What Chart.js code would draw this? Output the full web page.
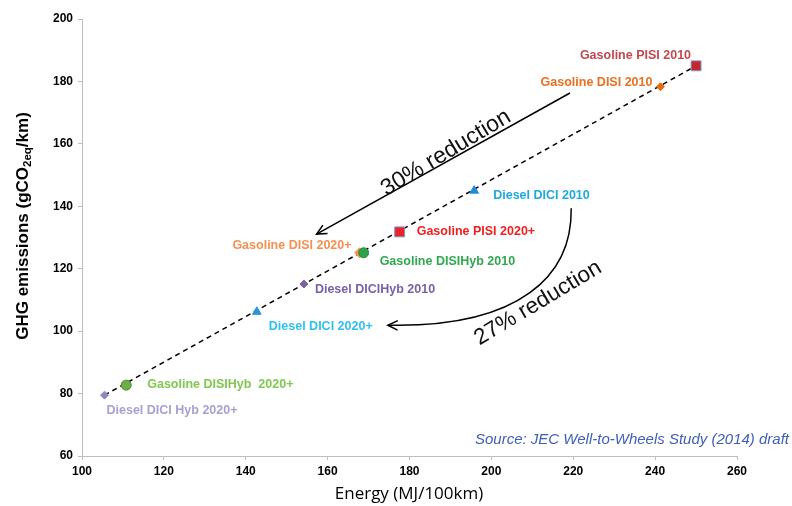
<!DOCTYPE html>
<html lang="en">
<head>
<meta charset="UTF-8">
<title>GHG emissions vs energy</title>
<script src="https://cdn.jsdelivr.net/npm/chart.js"></script>
<style>
  html, body { margin:0; padding:0; background:#fff; }
  #wrap { width:792px; height:506px; }
</style>
</head>
<body>
<div id="wrap"><canvas id="chart" width="792" height="506"></canvas></div>
<script>
// vehicle configurations (JEC WtW 2014)
const vehicles = [
  'Gasoline PISI 2010', 'Gasoline DISI 2010', 'Diesel DICI 2010', 'Gasoline PISI 2020+',
  'Gasoline DISI 2020+', 'Gasoline DISIHyb 2010', 'Diesel DICIHyb 2010', 'Diesel DICI 2020+',
  'Gasoline DISIHyb  2020+', 'Diesel DICI Hyb 2020+'
];
const energy    = [250, 241.3, 195.8, 177.6, 167.8, 168.8, 154.2, 142.7, 110.8, 105.5];   // MJ/100km
const emissions = [185, 178.3, 145.0, 131.8, 125.1, 125.1, 115.1, 106.2, 82.7, 79.5];     // gCO2eq/km

const xTicks = [100, 120, 140, 160, 180, 200, 220, 240, 260];
const yTicks = [60, 80, 100, 120, 140, 160, 180, 200];

// styling
const pointFill   = ['#C0282E', '#E46C0A', '#1F8DD6', '#E8242A', '#F79646', '#2EA24A', '#7B62A8', '#2A95DA', '#6CB044', '#8E89C6'];
const pointBorder = ['#8A93C8', '#E46C0A', '#1F8DD6', '#8A93C8', '#F79646', '#2E8A40', '#7B62A8', '#2A95DA', '#4E8A30', '#8E89C6'];
const pointShape  = ['rect', 'rectRot', 'triangle', 'rect', 'rectRot', 'circle', 'rectRot', 'triangle', 'circle', 'rectRot'];
const pointSize   = [7, 4, 5, 7, 5, 5, 4, 5, 5, 4];
const labelColor  = ['#C04850', '#E87020', '#20A8E0', '#F02020', '#F59050', '#30A850', '#7A60A8', '#30C0F0', '#80C850', '#A8A0D0'];
// [dx, dy, align] relative to the marker
const labelPos = [
  [-5, -10, 'right'], [-8, -4, 'right'], [19, 5, 'left'], [17, 0, 'left'], [-8, -7, 'right'],
  [16, 9, 'left'], [11, 6, 'left'], [12, 15, 'left'], [21, -1, 'left'], [2, 15, 'left']
];

const FONT = '"Liberation Sans", Arial, sans-serif';

const points = energy.map((e, i) => ({ x: e, y: emissions[i] }));
const lo = energy.indexOf(Math.min(...energy));
const hi = energy.indexOf(Math.max(...energy));

// annotations, in data coordinates
const arrow30 = { from: [219.2, 176.3], to: [157.3, 131.1] };
const arrow27 = { from: [219.5, 139.4], c1: [219.8, 117.9], c2: [207, 101], to: [174.7, 101.9] };
const texts = [
  { text: '30% reduction', at: [188.9, 157.1], angle: -31, size: 23 },
  { text: '27% reduction', at: [211.4, 109.0], angle: -31, size: 22.5 }
];

function head(ctx, x, y, ang) {
  const L = 11, a = 0.45;
  ctx.beginPath();
  ctx.moveTo(x - L * Math.cos(ang - a), y - L * Math.sin(ang - a));
  ctx.lineTo(x, y);
  ctx.lineTo(x - L * Math.cos(ang + a), y - L * Math.sin(ang + a));
  ctx.stroke();
}

const decor = {
  id: 'decor',
  afterDatasetsDraw(chart) {
    const ctx = chart.ctx, sx = chart.scales.x, sy = chart.scales.y;
    const P = p => [sx.getPixelForValue(p[0]), sy.getPixelForValue(p[1])];
    const meta = chart.getDatasetMeta(1);
    ctx.save();
    // point labels
    ctx.font = 'bold 12.5px ' + FONT;
    ctx.textBaseline = 'middle';
    meta.data.forEach((el, i) => {
      const [dx, dy, al] = labelPos[i];
      ctx.fillStyle = labelColor[i];
      ctx.textAlign = al;
      ctx.fillText(vehicles[i], el.x + dx, el.y + dy);
    });

    // arrows
    ctx.strokeStyle = '#000';
    ctx.lineWidth = 1.5;
    let a = P(arrow30.from), b = P(arrow30.to);
    ctx.beginPath(); ctx.moveTo(a[0], a[1]); ctx.lineTo(b[0], b[1]); ctx.stroke();
    head(ctx, b[0], b[1], Math.atan2(b[1] - a[1], b[0] - a[0]));

    a = P(arrow27.from); const c1 = P(arrow27.c1), c2 = P(arrow27.c2); b = P(arrow27.to);
    ctx.beginPath(); ctx.moveTo(a[0], a[1]);
    ctx.bezierCurveTo(c1[0], c1[1], c2[0], c2[1], b[0], b[1]); ctx.stroke();
    head(ctx, b[0], b[1], Math.atan2(b[1] - c2[1], b[0] - c2[0]));

    // rotated captions
    ctx.fillStyle = '#111';
    ctx.textAlign = 'center';
    texts.forEach(t => {
      const p = P(t.at);
      ctx.save();
      ctx.translate(p[0], p[1]);
      ctx.rotate(t.angle * Math.PI / 180);
      ctx.font = t.size + 'px ' + FONT;
      ctx.fillText(t.text, 0, 0);
      ctx.restore();
    });

    // source note
    ctx.font = 'italic 15px ' + FONT;
    ctx.fillStyle = '#4060B8';
    ctx.textAlign = 'right';
    ctx.fillText('Source: JEC Well-to-Wheels Study (2014) draft', 789, 440);

    // y axis title with subscript
    ctx.save();
    ctx.translate(23, 226);
    ctx.rotate(-Math.PI / 2);
    ctx.fillStyle = '#000';
    ctx.textAlign = 'left';
    ctx.textBaseline = 'middle';
    const big = 'bold 17px ' + FONT, small = 'bold 11.5px ' + FONT;
    const parts = [['GHG emissions (gCO', big, 0], ['2eq', small, 5], ['/km)', big, 0]];
    let w = 0;
    parts.forEach(p => { ctx.font = p[1]; w += ctx.measureText(p[0]).width; });
    let x = -w / 2;
    parts.forEach(p => {
      ctx.font = p[1];
      ctx.fillText(p[0], x, p[2]);
      x += ctx.measureText(p[0]).width;
    });
    ctx.restore();

    // x axis title
    ctx.font = '17px "Open Sans", sans-serif';
    ctx.fillStyle = '#000';
    ctx.textAlign = 'center';
    ctx.textBaseline = 'middle';
    ctx.fillText('Energy (MJ/100km)', 409, 494);
    ctx.restore();
  }
};

const axisColor = '#BDBDBD';

new Chart(document.getElementById('chart'), {
  type: 'scatter',
  data: {
    datasets: [
      {
        type: 'line',
        data: [points[lo], points[hi]],
        borderColor: '#000',
        borderWidth: 1.5,
        borderDash: [5, 4],
        pointRadius: 0,
        fill: false,
        order: 2
      },
      {
        data: points,
        pointStyle: pointShape,
        pointRadius: pointSize,
        pointBackgroundColor: pointFill,
        pointBorderColor: pointBorder,
        pointBorderWidth: 1,
        order: 1
      }
    ]
  },
  options: {
    responsive: false,
    animation: false,
    layout: { padding: { top: 19, right: 55, left: 0, bottom: 0 } },
    plugins: { legend: { display: false }, tooltip: { enabled: false } },
    scales: {
      x: {
        type: 'linear', min: xTicks[0], max: xTicks[xTicks.length - 1],
        afterBuildTicks: s => { s.ticks = xTicks.map(v => ({ value: v })); },
        afterFit: s => { s.height = 50; },
        grid: { drawOnChartArea: false, color: axisColor, tickLength: 4 },
        border: { color: axisColor, width: 1 },
        ticks: { color: '#000', font: { family: FONT, size: 12, weight: 'bold' }, padding: 4, maxRotation: 0 }
      },
      y: {
        type: 'linear', min: yTicks[0], max: yTicks[yTicks.length - 1],
        afterBuildTicks: s => { s.ticks = yTicks.map(v => ({ value: v })); },
        afterFit: s => { s.width = 82; },
        grid: { drawOnChartArea: false, color: axisColor, tickLength: 4 },
        border: { color: axisColor, width: 1 },
        ticks: { color: '#000', font: { family: FONT, size: 12, weight: 'bold' }, padding: 5 }
      }
    }
  },
  plugins: [decor]
});
</script>
</body>
</html>
